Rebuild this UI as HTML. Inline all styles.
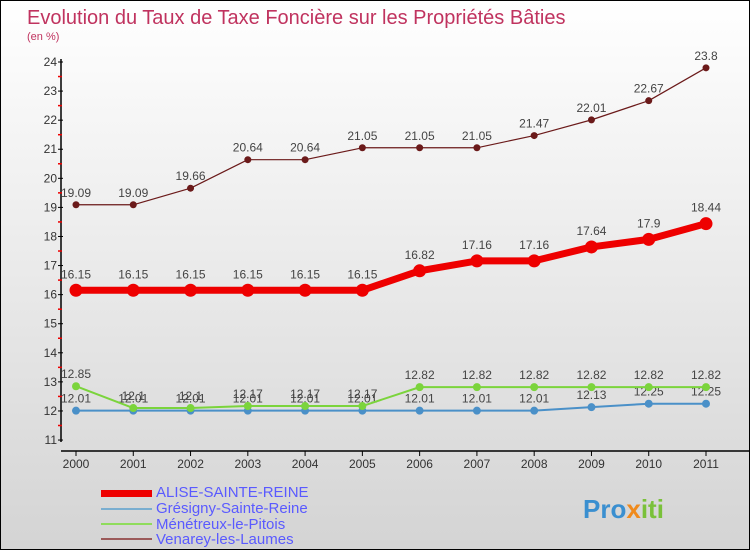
<!DOCTYPE html>
<html><head><meta charset="utf-8"><style>
body{margin:0}
#c{width:748px;height:548px;border:1px solid #000;background:linear-gradient(#fff,#d4d4d4);position:relative;overflow:hidden;font-family:"Liberation Sans",sans-serif}
</style></head><body>
<div id="c">
<svg width="748" height="548" id="s">
<text x="26" y="23" font-size="20" fill="#c0335f">Evolution du Taux de Taxe Foncière sur les Propriétés Bâties</text>
<text x="26" y="39" font-size="11" fill="#c0335f">(en %)</text>
<g id="axes"></g><g id="series"></g>
<g font-size="15" fill="#5a5aff">
<rect x="100" y="489" width="51" height="7" fill="#e00"/>
<text x="155" y="496">ALISE-SAINTE-REINE</text>
<rect x="100" y="507" width="51" height="2" fill="#7aaed0"/>
<text x="155" y="512">Grésigny-Sainte-Reine</text>
<rect x="100" y="522" width="51" height="2" fill="#8fdc5c"/>
<text x="155" y="528">Ménétreux-le-Pitois</text>
<rect x="100" y="537" width="51" height="2" fill="#9b5a5a"/>
<text x="155" y="543">Venarey-les-Laumes</text>
</g>
<text x="582" y="517" font-size="26" font-weight="bold" fill="#3a8fd0">Pro<tspan fill="#f08a1c">x</tspan><tspan fill="#7ac13a">iti</tspan></text>
</svg></div>
<script>
const years=[2000,2001,2002,2003,2004,2005,2006,2007,2008,2009,2010,2011];
const yTicks=[11,12,13,14,15,16,17,18,19,20,21,22,23,24];
const alise=[16.15,16.15,16.15,16.15,16.15,16.15,16.82,17.16,17.16,17.64,17.9,18.44];
const gresigny=[12.01,12.01,12.01,12.01,12.01,12.01,12.01,12.01,12.01,12.13,12.25,12.25];
const menetreux=[12.85,12.1,12.1,12.17,12.17,12.17,12.82,12.82,12.82,12.82,12.82,12.82];
const venarey=[19.09,19.09,19.66,20.64,20.64,21.05,21.05,21.05,21.47,22.01,22.67,23.8];
const NS="http://www.w3.org/2000/svg";
const X=i=>75+i*(630/11);
const Y=v=>61+(24-v)*29.08;
function mk(t,a,p){const e=document.createElementNS(NS,t);for(const k in a)e.setAttribute(k,a[k]);p.appendChild(e);return e;}
const ax=document.getElementById('axes');
let l=mk('line',{x1:60,y1:58,x2:60,y2:441,stroke:'#000','stroke-width':1.5},ax);


l=mk('line',{x1:60,y1:450,x2:748,y2:450,stroke:'#000','stroke-width':1.5},ax);


yTicks.forEach(v=>{
 mk('line',{x1:57,x2:62,y1:Y(v),y2:Y(v),stroke:'#000'},ax);
 if(v<24) mk('line',{x1:57,x2:61,y1:Y(v+0.5),y2:Y(v+0.5),stroke:'#e00','stroke-width':1.5},ax);
 const t=mk('text',{x:56,y:Y(v)+4,'text-anchor':'end','font-size':12,fill:'#333'},ax);
 t.textContent=v;
 
 
});
years.forEach((y,i)=>{
 mk('line',{x1:X(i),x2:X(i),y1:450,y2:455,stroke:'#000'},ax);
 const t=mk('text',{x:X(i),y:467,'text-anchor':'middle','font-size':12,fill:'#333'},ax);
 t.textContent=y;
 
 
});
const sg=document.getElementById('series');
function draw(name,vals,color,w,r,labelDy,fs){
 const g=mk('g',{},sg);
 
 
 const p=mk('polyline',{points:vals.map((v,i)=>X(i)+','+Y(v)).join(' '),fill:'none',stroke:color,'stroke-width':w,'stroke-linejoin':'round'},g);
 
 
 vals.forEach((v,i)=>{
  const c=mk('circle',{cx:X(i),cy:Y(v),r:r,fill:color},g);
  
  
  const t=mk('text',{x:X(i),y:Y(v)+labelDy,'text-anchor':'middle','font-size':fs,fill:'#444'},g);
  t.textContent=String(v);
  
  
 });
}
draw('gresigny',gresigny,'#4a90c8',2,4,-8,12);
draw('menetreux',menetreux,'#7bd43c',2,4,-8,12);
draw('venarey',venarey,'#6b1a1a',1.2,3.5,-8,12);
draw('alise',alise,'#e00',7,6.5,-12,12);
</script>
</body></html>
